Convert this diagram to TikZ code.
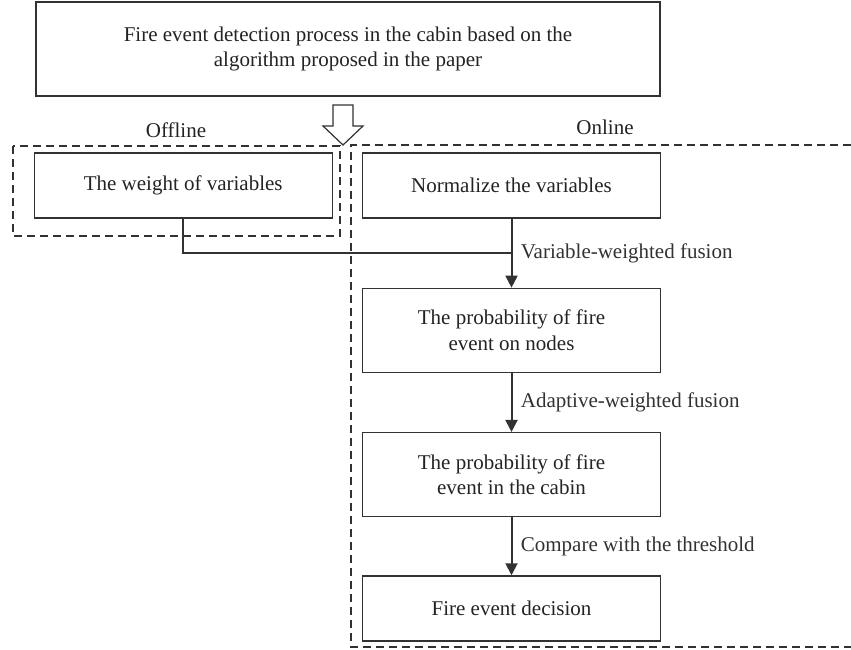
\documentclass[tikz,border=0pt]{standalone}
\usepackage{fontspec}
\setmainfont{Liberation Serif}
\usetikzlibrary{arrows.meta,calc,positioning}
\definecolor{fdline}{RGB}{50,50,50}
\definecolor{fdtext}{RGB}{35,35,35}

\begin{document}
\begin{tikzpicture}[x=1pt,y=-1pt,font=\fontsize{21}{25.5}\selectfont,
      node distance=29pt,text=fdtext,
      e/.style={draw=fdline,line width=1.3pt,minimum width=298pt,minimum height=65pt,
        align=center,inner sep=0pt},
      etall/.style={e,minimum height=84pt},
      a/.style={-{Triangle[length=12pt,width=12pt]},line width=2pt,fdline},
      lbl/.style={right=5pt,midway},
      zone/.style={draw=fdline,line width=1.1pt,dash pattern=on 8pt off 5pt}]
      \useasboundingbox (0,0) rectangle (851,650);
      \node[e,minimum width=624pt,minimum height=94pt] (top) at (348,49)
        {Fire event detection process in the cabin based on the\\ algorithm proposed in the paper};
      \node[e] (norm) at (511.5,185.5) {Normalize the variables};
      \node[e,left=of norm] (wgt) {The weight of variables};
      \node[etall,below=69pt of norm] (pn) {The probability of fire\\ event on nodes};
      \node[etall,below=59pt of pn] (pc) {The probability of fire\\ event in the cabin};
      \node[e,below=58pt of pc] (dec) {Fire event decision};
      % offline / online regions
      \draw[zone] (13,146) rectangle (340,236);
      \draw[zone] (851,145) -| (351,647) -- (851,647);
      \node (offl) at (176,130) {Offline};
      \node (onl) at (605,127) {Online};
      % hollow arrow below the title box
      \draw[fdline,line width=1.2pt,fill=white] (333,105) -- (353,105) -- (353,126) -- (363,126)
        -- (343,145) -- (323,126) -- (333,126) -- cycle;
      \coordinate (jn) at ($(norm.south)!.5!(pn.north)$);
      \draw[line width=2pt,fdline] (wgt.south) |- (jn);
      \draw[a] (norm) -- node[lbl] {Variable-weighted fusion} (pn);
      \draw[a] (pn) -- node[lbl] {Adaptive-weighted fusion} (pc);
      \draw[a] (pc) -- node[lbl] {Compare with the threshold} (dec);
    \end{tikzpicture}
\end{document}
